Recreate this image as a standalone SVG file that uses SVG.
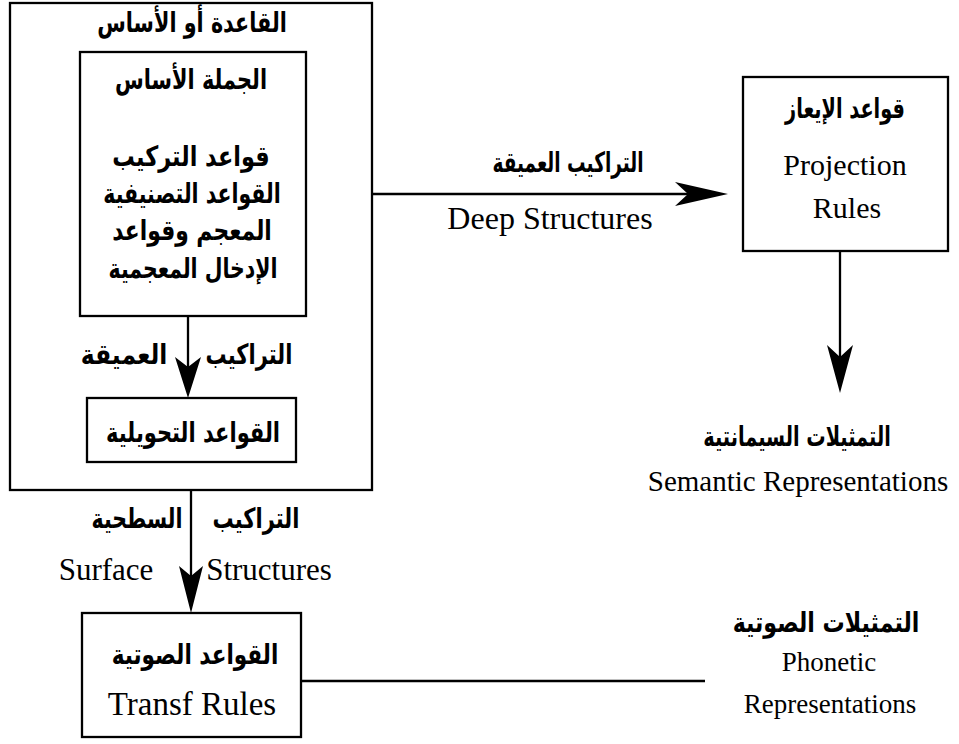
<svg xmlns="http://www.w3.org/2000/svg" width="959" height="744" viewBox="0 0 959 744">
<style>
.box{fill:none;stroke:#000;stroke-width:2.3}
.ln{fill:none;stroke:#000;stroke-width:2.3}
.ar{font-family:"DejaVu Sans",sans-serif;font-weight:bold;font-size:28px;fill:#000;direction:rtl;text-anchor:middle}
.en{font-family:"Liberation Serif",serif;font-size:30px;fill:#000;text-anchor:middle}
.head{fill:#000}
</style>
<rect width="959" height="744" fill="#fff"/>
<g id="base">
<rect class="box" x="10" y="3" width="362" height="487"/>
<text class="ar" transform="translate(192,32) scale(0.74,1)">القاعدة أو الأساس</text>
</g>
<g id="kernel">
<rect class="box" x="80" y="52" width="226" height="264"/>
<text class="ar" transform="translate(191,89) scale(0.745,1)">الجملة الأساس</text>
<text class="ar" transform="translate(191,166) scale(0.8,1)">قواعد التركيب</text>
<text class="ar" transform="translate(192,203) scale(0.73,1)">القواعد التصنيفية</text>
<text class="ar" transform="translate(192,240) scale(0.78,1)">المعجم وقواعد</text>
<text class="ar" transform="translate(193,278) scale(0.73,1)">الإدخال المعجمية</text>
</g>
<g id="transformational">
<rect class="box" x="87" y="398" width="209" height="64"/>
<text class="ar" transform="translate(193,442) scale(0.75,1)">القواعد التحويلية</text>
</g>
<g id="projection">
<rect class="box" x="743" y="77" width="205" height="174"/>
<text class="ar" transform="translate(845,118) scale(0.69,1)">قواعد الإيعاز</text>
<text class="en" x="845" y="175">Projection</text>
<text class="en" x="847" y="218">Rules</text>
</g>
<g id="semantic">
<text class="ar" transform="translate(797,446) scale(0.69,1)">التمثيلات السيمانتية</text>
<text class="en" x="798" y="491" style="font-size:29px">Semantic Representations</text>
</g>
<g id="phonological">
<rect class="box" x="82" y="613" width="219" height="124"/>
<text class="ar" transform="translate(195,664) scale(0.77,1)">القواعد الصوتية</text>
<text class="en" x="192" y="715" style="font-size:33px">Transf Rules</text>
</g>
<g id="phonetic">
<text class="ar" transform="translate(826,632) scale(0.79,1)">التمثيلات الصوتية</text>
<text class="en" x="829" y="671" style="font-size:27px">Phonetic</text>
<text class="en" x="830" y="713" style="font-size:27px">Representations</text>
</g>
<g id="connectors">
<line class="ln" x1="188" y1="316" x2="188" y2="385"/>
<path class="head" d="M175,357 L188,367 L201,357 L188,398 Z"/>
<text class="ar" transform="translate(124,364) scale(0.84,1)">العميقة</text>
<text class="ar" transform="translate(249,364) scale(0.75,1)">التراكيب</text>
<line class="ln" x1="372" y1="194" x2="715" y2="194"/>
<path class="head" d="M675,182 L688,194 L675,206 L728,194 Z"/>
<text class="ar" transform="translate(568,172) scale(0.66,1)">التراكيب العميقة</text>
<text class="en" x="550" y="229" style="font-size:32px">Deep Structures</text>
<line class="ln" x1="840" y1="251" x2="840" y2="380"/>
<path class="head" d="M827,345 L840,357 L853,345 L840,393 Z"/>
<line class="ln" x1="191" y1="490" x2="191" y2="600"/>
<path class="head" d="M179,566 L191,576 L203,566 L191,613 Z"/>
<text class="ar" transform="translate(137,528) scale(0.73,1)">السطحية</text>
<text class="ar" transform="translate(256,528) scale(0.75,1)">التراكيب</text>
<text class="en" x="106" y="580" style="font-size:31px">Surface</text>
<text class="en" x="269" y="580" style="font-size:31px">Structures</text>
<line class="ln" x1="301" y1="681" x2="705" y2="681"/>
</g>
</svg>
